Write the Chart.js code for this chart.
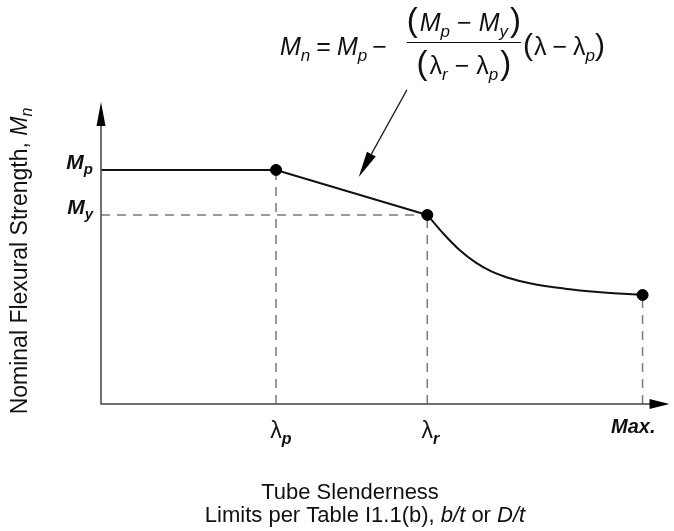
<!DOCTYPE html>
<html lang="en">
<head>
    <meta charset="UTF-8">
    <title>Nominal Flexural Strength vs Tube Slenderness</title>
    <script src="https://cdn.jsdelivr.net/npm/chart.js"></script>
    <style>
        body {
            margin: 0;
            background-color: #fff;
        }
        .wrap {
            width: 674px;
            height: 531px;
            position: relative;
        }
    </style>
</head>
<body>
    <div class="wrap"><canvas id="chart"></canvas></div>
    <script>
        // slenderness limits (x) and strength levels (y)
        const xTickLabels = ['p', 'r', 'Max.'];
        const xTickValues = [30.9, 57.6, 95.6];   // lambda_p, lambda_r, Max.
        const yTickLabels = ['p', 'y'];
        const yTickValues = [77.5, 62.6];         // M_p, M_y

        // plastic plateau then linear drop (0 -> lambda_p -> lambda_r)
        const lineX = [0, 30.9, 57.6];
        const lineY = [77.5, 77.5, 62.6];

        // slender range, from lambda_r to Max.
        const curveX = [57.6, 60.5, 63.3, 66.1, 68.9, 71.7, 75.9, 81.9, 87.7, 95.6];
        const curveY = [62.6, 56.3, 51.0, 46.9, 43.9, 41.9, 39.9, 38.2, 37.1, 36.1];

        // marked points
        const dotX = [30.9, 57.6, 95.6];
        const dotY = [77.5, 62.6, 36.1];

        // pointer from the formula down to the linear part
        const pointerFrom = { x: 54.0, y: 104.0 };
        const pointerTo = { x: 45.5, y: 75.2 };

        const FONT = "'Liberation Sans', Arial, sans-serif";
        const dashColor = '#7a7a7a';

        function pts(xs, ys) {
            return xs.map((x, i) => ({ x: x, y: ys[i] }));
        }

        // dashed guide lines down to the x axis and across to the y axis
        const guides = [];
        dotX.forEach((x, i) => {
            guides.push({
                data: [{ x: x, y: 0 }, { x: x, y: dotY[i] }],
                borderColor: dashColor, borderWidth: 1.5, borderDash: [9, 7],
                pointRadius: 0, showLine: true, order: 5
            });
        });
        guides.push({
            data: [{ x: 0, y: yTickValues[1] }, { x: xTickValues[1], y: yTickValues[1] }],
            borderColor: dashColor, borderWidth: 1.5, borderDash: [9, 7],
            pointRadius: 0, showLine: true, order: 5
        });

        // draw a run of text pieces: {t, size, it, bold, dy, gap}
        function fontOf(p) {
            return (p.it ? 'italic ' : '') + (p.bold ? 'bold ' : '') + p.size + 'px ' + FONT;
        }
        function runWidth(ctx, parts) {
            let w = 0;
            parts.forEach(p => {
                ctx.font = fontOf(p);
                w += ctx.measureText(p.t).width + (p.gap || 0);
            });
            return w;
        }
        function drawRun(ctx, x, y, parts) {
            parts.forEach(p => {
                ctx.font = fontOf(p);
                ctx.fillText(p.t, x, y + (p.dy || 0));
                x += ctx.measureText(p.t).width + (p.gap || 0);
            });
            return x;
        }

        const annotations = {
            id: 'annotations',
            afterDraw(chart) {
                const ctx = chart.ctx;
                const xs = chart.scales.x, ys = chart.scales.y;
                const area = chart.chartArea;
                ctx.save();
                ctx.strokeStyle = '#444';
                ctx.textAlign = 'left';
                ctx.textBaseline = 'alphabetic';

                // axes with arrow heads
                const x0 = area.left, y0 = area.bottom;
                ctx.lineWidth = 1.5;
                ctx.beginPath();
                ctx.moveTo(x0, area.top + 15);
                ctx.lineTo(x0, y0);
                ctx.lineTo(area.right - 10, y0);
                ctx.stroke();
                ctx.fillStyle = '#000';
                ctx.beginPath();
                ctx.moveTo(x0, area.top);
                ctx.lineTo(x0 - 4.5, area.top + 24);
                ctx.lineTo(x0 + 4.5, area.top + 24);
                ctx.closePath();
                ctx.fill();
                ctx.beginPath();
                ctx.moveTo(area.right + 2, y0);
                ctx.lineTo(area.right - 18, y0 - 5);
                ctx.lineTo(area.right - 18, y0 + 5);
                ctx.closePath();
                ctx.fill();

                // y tick labels M_p, M_y
                ctx.fillStyle = '#111';
                yTickValues.forEach((v, i) => {
                    const parts = [
                        { t: 'M', size: 21, it: true, bold: true },
                        { t: yTickLabels[i], size: 15, it: true, bold: true, dy: 5 }
                    ];
                    const w = runWidth(ctx, parts);
                    drawRun(ctx, 93 - w, ys.getPixelForValue(v) - 1, parts);
                });

                // x tick labels
                xTickValues.forEach((v, i) => {
                    const px = xs.getPixelForValue(v);
                    if (xTickLabels[i] === 'Max.') {
                        ctx.font = 'italic bold 20px ' + FONT;
                        ctx.textAlign = 'right';
                        ctx.fillText('Max.', area.right - 12, 433);
                        ctx.textAlign = 'left';
                    } else {
                        ctx.font = '23px ' + FONT;
                        const lw = ctx.measureText('λ').width;
                        drawRun(ctx, px - lw / 2, 438, [
                            { t: 'λ', size: 23 },
                            { t: xTickLabels[i], size: 16, it: true, bold: true, dy: 6 }
                        ]);
                    }
                });

                // axis titles
                ctx.font = '22px ' + FONT;
                ctx.textAlign = 'center';
                ctx.fillText('Tube Slenderness', 350, 499);
                const lim = [
                    { t: 'Limits per Table I1.1(b), ', size: 22 },
                    { t: 'b/t', size: 22, it: true },
                    { t: ' or ', size: 22 },
                    { t: 'D/t', size: 22, it: true }
                ];
                ctx.textAlign = 'left';
                const lw2 = runWidth(ctx, lim);
                drawRun(ctx, 365 - lw2 / 2, 522, lim);

                const yt = [
                    { t: 'Nominal Flexural Strength, ', size: 23 },
                    { t: 'M', size: 23, it: true },
                    { t: 'n', size: 16, it: true, dy: 5 }
                ];
                const yw = runWidth(ctx, yt);
                ctx.save();
                ctx.translate(27, 261);
                ctx.rotate(-Math.PI / 2);
                drawRun(ctx, -yw / 2, 0, yt);
                ctx.restore();

                // formula
                let fx = 280;
                const base = 55;
                fx = drawRun(ctx, fx, base, [
                    { t: 'M', size: 25, it: true },
                    { t: 'n', size: 17, it: true, dy: 6, gap: 6 },
                    { t: '=', size: 25, gap: 6 },
                    { t: 'M', size: 25, it: true },
                    { t: 'p', size: 17, it: true, dy: 6, gap: 5 },
                    { t: '−', size: 25, gap: 20 }
                ]);
                const num = [
                    { t: '(', size: 33, gap: 2 },
                    { t: 'M', size: 25, it: true },
                    { t: 'p', size: 17, it: true, dy: 6, gap: 7 },
                    { t: '−', size: 25, gap: 7 },
                    { t: 'M', size: 25, it: true },
                    { t: 'y', size: 17, it: true, dy: 6, gap: 2 },
                    { t: ')', size: 33 }
                ];
                const den = [
                    { t: '(', size: 33, gap: 2 },
                    { t: 'λ', size: 25 },
                    { t: 'r', size: 17, it: true, dy: 6, gap: 7 },
                    { t: '−', size: 25, gap: 7 },
                    { t: 'λ', size: 25 },
                    { t: 'p', size: 17, it: true, dy: 6, gap: 2 },
                    { t: ')', size: 33 }
                ];
                const nw = runWidth(ctx, num), dw = runWidth(ctx, den);
                const fw = Math.max(nw, dw);
                drawRun(ctx, fx + (fw - nw) / 2, 31, num);
                drawRun(ctx, fx + (fw - dw) / 2, 74, den);
                ctx.strokeStyle = '#111';
                ctx.lineWidth = 1.2;
                ctx.beginPath();
                ctx.moveTo(fx, 42.5);
                ctx.lineTo(fx + fw, 42.5);
                ctx.stroke();
                fx += fw + 2;
                drawRun(ctx, fx, base, [
                    { t: '(', size: 30, gap: 1 },
                    { t: 'λ', size: 25, gap: 6 },
                    { t: '−', size: 25, gap: 6 },
                    { t: 'λ', size: 25 },
                    { t: 'p', size: 17, it: true, dy: 6 },
                    { t: ')', size: 30 }
                ]);

                // pointer arrow
                const ax = xs.getPixelForValue(pointerFrom.x), ay = ys.getPixelForValue(pointerFrom.y);
                const bx = xs.getPixelForValue(pointerTo.x), by = ys.getPixelForValue(pointerTo.y);
                const ang = Math.atan2(by - ay, bx - ax);
                const hl = 26, hw = 5;
                const hx = bx - hl * Math.cos(ang), hy = by - hl * Math.sin(ang);
                ctx.strokeStyle = '#222';
                ctx.lineWidth = 1.3;
                ctx.beginPath();
                ctx.moveTo(ax, ay);
                ctx.lineTo(hx, hy);
                ctx.stroke();
                ctx.fillStyle = '#000';
                ctx.beginPath();
                ctx.moveTo(bx, by);
                ctx.lineTo(hx + hw * Math.sin(ang), hy - hw * Math.cos(ang));
                ctx.lineTo(hx - hw * Math.sin(ang), hy + hw * Math.cos(ang));
                ctx.closePath();
                ctx.fill();

                ctx.restore();
            }
        };

        new Chart(document.getElementById('chart'), {
            type: 'scatter',
            data: {
                datasets: [
                    {
                        data: pts(lineX, lineY),
                        showLine: true, borderColor: '#111', borderWidth: 2,
                        pointRadius: 0, tension: 0, order: 2
                    },
                    {
                        data: pts(curveX, curveY),
                        showLine: true, borderColor: '#111', borderWidth: 2,
                        pointRadius: 0, cubicInterpolationMode: 'monotone', order: 2
                    },
                    {
                        data: pts(dotX, dotY),
                        showLine: false, pointRadius: 5.5,
                        backgroundColor: '#000', borderColor: '#000', order: 1
                    }
                ].concat(guides)
            },
            options: {
                responsive: true,
                maintainAspectRatio: false,
                animation: false,
                layout: { padding: { left: 101, right: 4, top: 102, bottom: 127 } },
                plugins: {
                    legend: { display: false },
                    tooltip: { enabled: false }
                },
                scales: {
                    x: { type: 'linear', min: 0, max: 100, display: false },
                    y: { type: 'linear', min: 0, max: 100, display: false }
                }
            },
            plugins: [annotations]
        });
    </script>
</body>
</html>
